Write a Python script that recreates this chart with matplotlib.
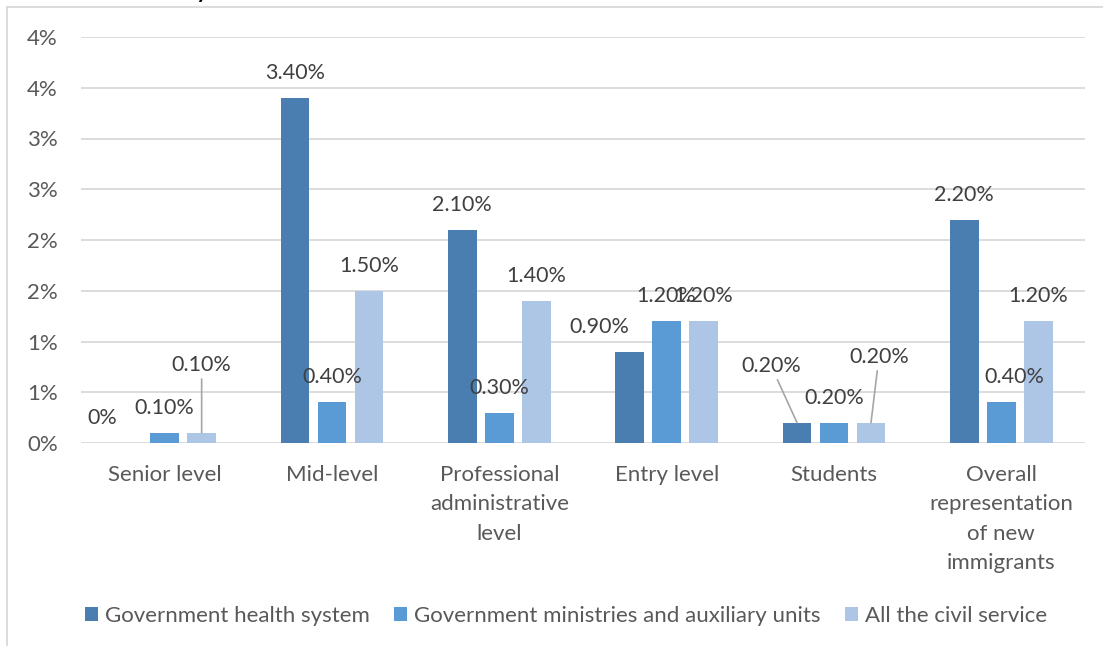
import matplotlib
matplotlib.use("Agg")
import matplotlib.pyplot as plt
import numpy as np
from matplotlib.lines import Line2D

categories = ["Senior level", "Mid-level", "Professional\nadministrative\nlevel",
              "Entry level", "Students", "Overall\nrepresentation\nof new\nimmigrants"]
series_names = ["Government health system", "Government ministries and auxiliary units",
                "All the civil service"]
health = [0.0, 3.4, 2.1, 0.9, 0.2, 2.2]
ministries = [0.1, 0.4, 0.3, 1.2, 0.2, 0.4]
civil = [0.1, 1.5, 1.4, 1.2, 0.2, 1.2]
yticks = [0, 0.5, 1.0, 1.5, 2.0, 2.5, 3.0, 3.5, 4.0]

colors = ["#4A7EB1", "#5B9BD5", "#ADC6E6"]
FONT = "Lato"
TXT = "#595959"
LBL = "#404040"
DPI = 100
PX = 72.0 / DPI  # points per pixel
FS = 16
FS_LBL = 15.5

plt.rcParams["font.family"] = [FONT, "DejaVu Sans"]

fig = plt.figure(figsize=(11.03, 6.46), dpi=DPI)
W, H = 1103, 646
ax = fig.add_axes([81 / W, 1 - 443 / H, (1085 - 81) / W, (443 - 37) / H])

x = np.arange(len(categories))
bw = 0.173
step = 0.221
all_series = [health, ministries, civil]
for i, (vals, c, name) in enumerate(zip(all_series, colors, series_names)):
    ax.bar(x + (i - 1) * step, vals, width=bw, color=c, label=name, zorder=3)

ax.set_xlim(-0.5, len(categories) - 0.5)
ax.set_ylim(0, 4.0)
ax.set_yticks(yticks)
ax.set_yticklabels([f"{int(v + 0.5)}%" for v in yticks])
ax.set_xticks(x)
ax.set_xticklabels(categories, linespacing=1.58)
ax.tick_params(axis="y", length=0, pad=23 * PX, labelsize=FS, labelcolor=TXT)
ax.tick_params(axis="x", length=0, pad=22 * PX, labelsize=FS, labelcolor=TXT)
for s in ax.spines.values():
    s.set_visible(False)
ax.grid(axis="y", color="#D9D9D9", linewidth=1.3, zorder=0)
ax.set_axisbelow(True)

# manual label offsets (dx, dy in pixels), leader flag
adjust = {
    (0, 0): (-25, 0, False),
    (0, 2): (0, 43, True),
    (3, 0): (-30, 0, False),
    (4, 0): (-26, 32, True),
    (4, 2): (8, 41, True),
    (5, 1): (13, 0, False),
}
for i, vals in enumerate(all_series):
    for j, v in enumerate(vals):
        dx, dy, leader = adjust.get((j, i), (0, 0, False))
        lab = "0%" if v == 0 else f"{v:.2f}%"
        kw = {}
        if leader:
            kw["arrowprops"] = dict(arrowstyle="-", color="#A6A6A6", lw=1.2,
                                    shrinkA=1, shrinkB=0)
        ax.annotate(lab, xy=(x[j] + (i - 1) * step, v),
                    xytext=(dx * PX, (25 + dy) * PX), textcoords="offset points",
                    ha="center", va="center", fontsize=FS_LBL, color=LBL, zorder=5, **kw)

leg = fig.legend(loc="center", bbox_to_anchor=(566 / W, 1 - 616 / H), ncol=3,
                 frameon=False, fontsize=FS, handlelength=0.6, handleheight=0.6,
                 handletextpad=0.3, columnspacing=1.1, borderaxespad=0, borderpad=0)
for t in leg.get_texts():
    t.set_color(TXT)

# chart border (left and top visible)
fig.add_artist(Line2D([7 / W, 7 / W], [0, 1 - 7 / H], transform=fig.transFigure,
                      color="#D9D9D9", lw=1.3))
fig.add_artist(Line2D([7 / W, 1], [1 - 7 / H, 1 - 7 / H], transform=fig.transFigure,
                      color="#D9D9D9", lw=1.3))
# clipped title fragment
fig.text(195 / W, 1 + 3 / H, "y", fontsize=22, color="black", ha="left", va="baseline")

fig.savefig("out.png", dpi=DPI)
